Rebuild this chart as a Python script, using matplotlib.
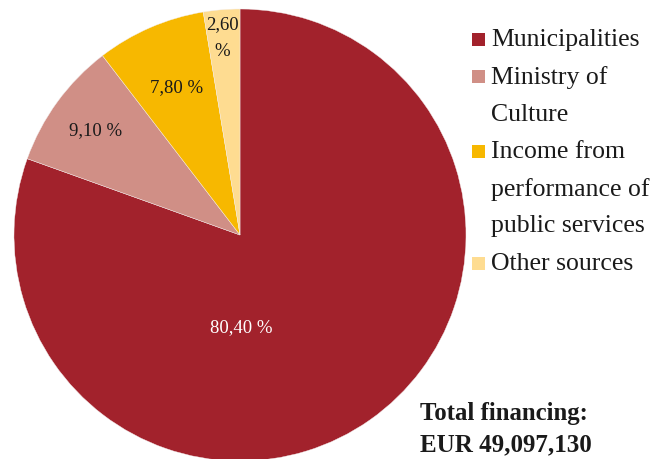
import matplotlib
matplotlib.use("Agg")
import matplotlib.pyplot as plt
from matplotlib.patches import Rectangle

categories = ["Municipalities", "Ministry of\nCulture", "Income from\nperformance of\npublic services", "Other sources"]
values = [80.40, 9.10, 7.80, 2.60]
pct_labels = ["80,40 %", "9,10 %", "7,80 %", "2,60\n%"]
colors = ["#a2222c", "#d08f86", "#f7b800", "#fedc91"]
total_lines = ["Total financing:", "EUR 49,097,130"]

W, H = 672, 460
fig = plt.figure(figsize=(W / 100, H / 100), dpi=100)
ax = fig.add_axes([0, 0, 1, 1])

cx, cy, r = 240, H - 236, 226
ax.pie(values, colors=colors, startangle=90, counterclock=False,
       center=(cx, cy), radius=r, frame=True,
       wedgeprops=dict(linewidth=0.3, edgecolor="#f4eeee"))
ax.set_xlim(0, W)
ax.set_ylim(0, H)
ax.set_aspect("equal")
ax.axis("off")

serif = "Liberation Serif"
label_pos = [(241, 328), (96, 131), (177, 88), (222, 38)]
for i, ((x, y), lab) in enumerate(zip(label_pos, pct_labels)):
    ax.text(x, H - y, lab, ha="center", va="center", fontsize=13.5,
            family=serif, color="white" if i == 0 else "#1a1a1a", linespacing=1.8)

# legend
line_h = 37.3
y = 40
for cat, col in zip(categories, colors):
    ax.add_patch(Rectangle((472, H - y - 7), 13, 13, color=col, lw=0))
    for ln in cat.split("\n"):
        ax.text(491, H - y, ln, ha="left", va="center", fontsize=18.5,
                family=serif, color="#1a1a1a")
        y += line_h

ax.text(420, H - 414, total_lines[0], ha="left", va="center", fontsize=17.8,
        family=serif, weight="bold", color="#1a1a1a")
ax.text(420, H - 445, total_lines[1], ha="left", va="center", fontsize=18,
        family=serif, weight="bold", color="#1a1a1a")

fig.savefig("out.png", dpi=100)
